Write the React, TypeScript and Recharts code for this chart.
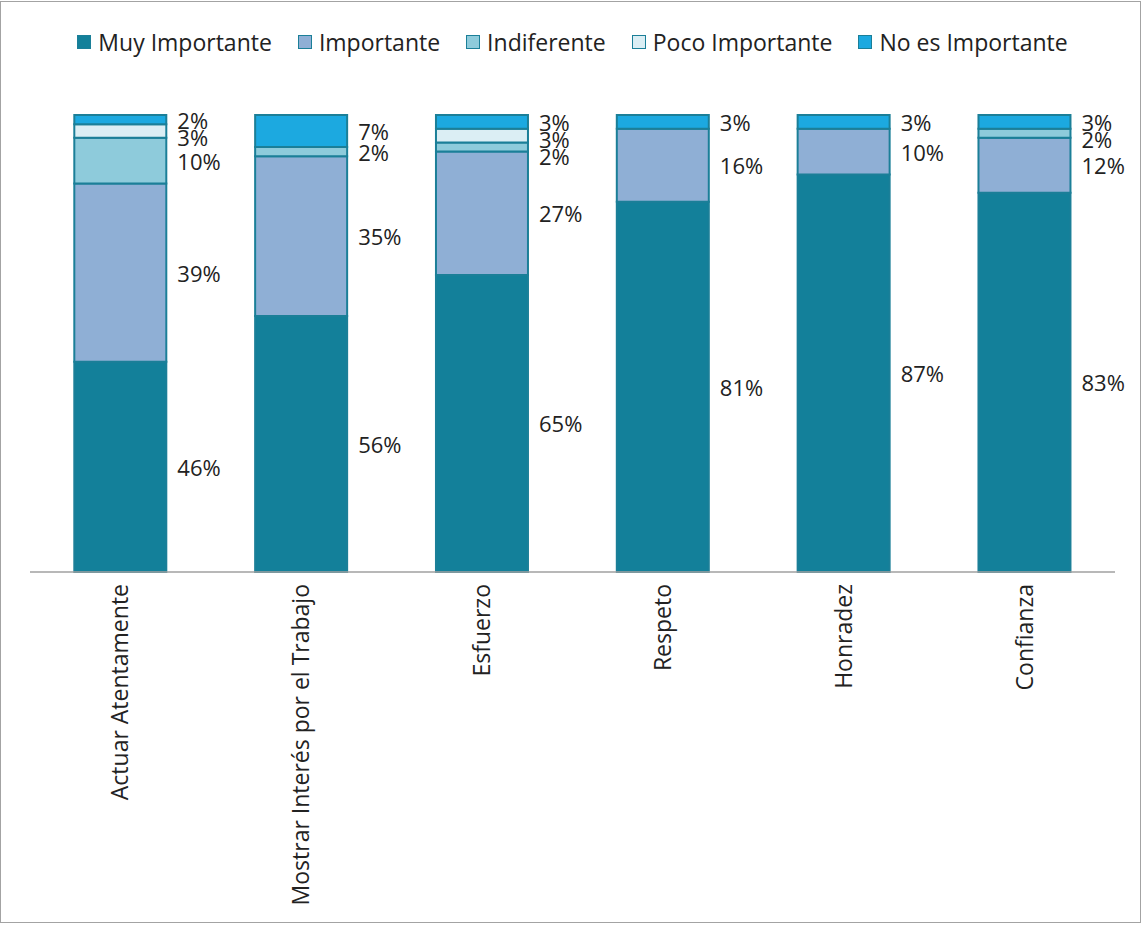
import React from 'react';
import { BarChart, Bar, XAxis, YAxis, Legend, LabelList } from 'recharts';

document.body.style.margin = '0';

const categories = [
  'Actuar Atentamente',
  'Mostrar Interés por el Trabajo',
  'Esfuerzo',
  'Respeto',
  'Honradez',
  'Confianza',
];
const muyImportante = [46, 56, 65, 81, 87, 83];
const importante = [39, 35, 27, 16, 10, 12];
const indiferente = [10, 2, 2, 0, 0, 2];
const pocoImportante = [3, 0, 3, 0, 0, 0];
const noEsImportante = [2, 7, 3, 3, 3, 3];

const series = [
  { key: 'Muy Importante', values: muyImportante, color: '#13809a' },
  { key: 'Importante', values: importante, color: '#8fafd5' },
  { key: 'Indiferente', values: indiferente, color: '#8ecbdb' },
  { key: 'Poco Importante', values: pocoImportante, color: '#dbeef4' },
  { key: 'No es Importante', values: noEsImportante, color: '#1ca9e0' },
];

const data = categories.map((name, i) => {
  const row: Record<string, string | number> = { name };
  series.forEach((s) => {
    row[s.key] = s.values[i];
  });
  return row;
});

const FONT = '"Open Sans", sans-serif';
const EDGE = '#1b7f98';
const LABEL_GAP = 17; // min px between stacked labels, like Excel nudges them

// label centre (px from stack top) for one series in one category, pushed down to avoid overlap
function labelOffset(catIndex: number, seriesIdx: number, pxPer: number) {
  const segs: { lo: number; hi: number }[] = [];
  let acc = 0;
  series.forEach((s) => {
    const v = s.values[catIndex];
    segs.push({ lo: acc, hi: acc + v });
    acc += v;
  });
  const total = acc;
  let prev = -Infinity;
  let result = 0;
  for (let k = segs.length - 1; k >= 0; k--) {
    const seg = segs[k];
    if (seg.hi - seg.lo === 0) continue;
    const center = (total - (seg.lo + seg.hi) / 2) * pxPer;
    const pos = Math.max(center, prev + LABEL_GAP);
    prev = pos;
    if (k === seriesIdx) result = pos;
  }
  return { offset: result, total, hi: segs[seriesIdx].hi };
}

// LabelList's index skips empty segments, so the label is keyed by category name
const makeLabel = (seriesIdx: number) => (props: any) => {
  const vb = props.viewBox && props.viewBox.width != null ? props.viewBox : props;
  const { x, y, width, height } = vb;
  const catIndex = categories.indexOf(String(props.value));
  if (catIndex < 0) return null;
  const value = series[seriesIdx].values[catIndex];
  if (!value || !height) return null;
  const pxPer = height / value;
  const { offset, total, hi } = labelOffset(catIndex, seriesIdx, pxPer);
  const stackTop = y - (total - hi) * pxPer;
  return (
    <text
      x={x + width + 11}
      y={stackTop + offset}
      fontFamily={FONT}
      fontSize={22}
      fill="#222"
      textAnchor="start"
      dominantBaseline="central"
    >
      {`${value}%`}
    </text>
  );
};

const CategoryTick = (props: any) => {
  const { x, y, payload } = props;
  return (
    <text
      transform={`translate(${x + 8},${y + 4}) rotate(-90)`}
      fontFamily={FONT}
      fontSize={23}
      fill="#222"
      textAnchor="end"
    >
      {payload.value}
    </text>
  );
};

const TopLegend = () => (
  <div
    style={{
      display: 'flex',
      justifyContent: 'center',
      gap: 26,
      fontFamily: FONT,
      fontSize: 23,
      color: '#222',
      lineHeight: '30px',
    }}
  >
    {series.map((s) => (
      <div key={s.key} style={{ display: 'flex', alignItems: 'center', gap: 7 }}>
        <span
          style={{
            width: 12,
            height: 12,
            background: s.color,
            border: `1.5px solid ${EDGE}`,
            display: 'inline-block',
          }}
        />
        <span>{s.key}</span>
      </div>
    ))}
  </div>
);

export default function App() {
  return (
    <div style={{ position: 'relative', width: 1143, height: 926, background: '#fff' }}>
      <div
        style={{
          position: 'absolute',
          left: 0,
          top: 1,
          width: 1141,
          height: 922,
          border: '1.5px solid #a3a3a3',
          boxSizing: 'border-box',
        }}
      />
      <BarChart
        width={1143}
        height={926}
        data={data}
        margin={{ top: 85, right: 28, left: 30, bottom: 0 }}
        barCategoryGap="24.5%"
        style={{ position: 'absolute', left: 0, top: 0 }}
      >
        <XAxis
          dataKey="name"
          interval={0}
          tickLine={false}
          axisLine={{ stroke: '#a0a0a0', strokeWidth: 1.5 }}
          tick={<CategoryTick />}
          height={354}
        />
        <YAxis hide domain={[0, 100]} />
        <Legend
          verticalAlign="top"
          align="center"
          content={<TopLegend />}
          wrapperStyle={{ top: 27, height: 30 }}
        />
        {series.map((s, k) => (
          <Bar
            key={s.key}
            dataKey={s.key}
            stackId="a"
            fill={s.color}
            stroke={EDGE}
            strokeWidth={2}
            isAnimationActive={false}
          >
            <LabelList dataKey={(d: any) => d.name} content={makeLabel(k)} />
          </Bar>
        ))}
      </BarChart>
    </div>
  );
}
